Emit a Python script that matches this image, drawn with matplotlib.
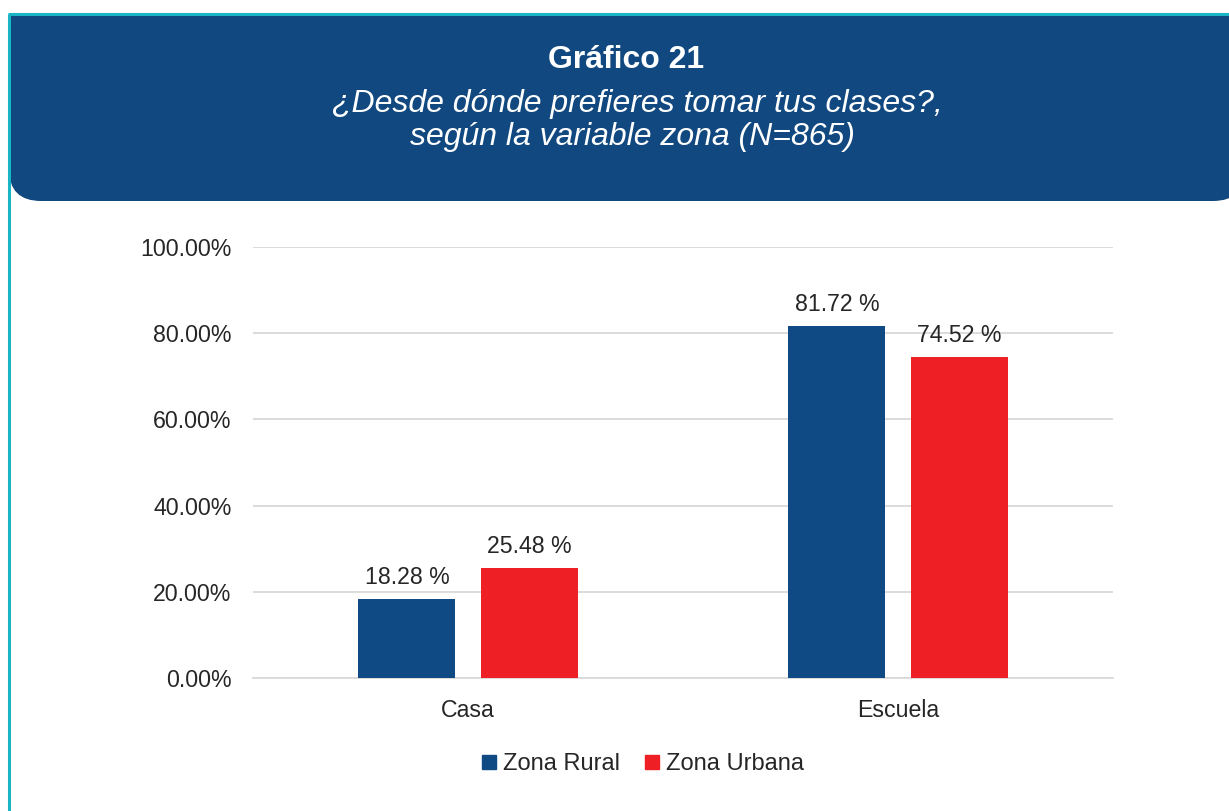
import matplotlib
matplotlib.use("Agg")
import matplotlib.pyplot as plt
import numpy as np
from matplotlib.patches import FancyBboxPatch, Rectangle
from matplotlib.lines import Line2D

categories = ["Casa", "Escuela"]
rural = [18.28, 81.72]
urbana = [25.48, 74.52]
series_names = ["Zona Rural", "Zona Urbana"]
yticks = [0, 20, 40, 60, 80, 100]
ytick_labels = ["0.00%", "20.00%", "40.00%", "60.00%", "80.00%", "100.00%"]

BLUE = "#0f4a84"
RED = "#ee1f25"
HEADER = "#10487f"
CYAN = "#19b5c4"
TXT = "#262626"

plt.rcParams['font.family'] = ['Liberation Sans', 'DejaVu Sans']

W, H = 1229, 811
fig = plt.figure(figsize=(W / 100, H / 100), dpi=100)

# header band with rounded bottom corners
bg = fig.add_axes([0, 0, 1, 1], zorder=0)
bg.set_xlim(0, W)
bg.set_ylim(H, 0)
bg.axis("off")
hdr = FancyBboxPatch((9, 60), W - 9 + 16, 141, boxstyle="round,pad=0,rounding_size=32",
                     facecolor=HEADER, edgecolor="none")
bg.add_patch(hdr)
bg.add_patch(Rectangle((9, 15), W, 100, facecolor=HEADER, edgecolor="none"))
bg.plot([8.5, 8.5], [14, H + 5], color=CYAN, lw=2.2, solid_capstyle="butt")
bg.plot([8, W], [14, 14], color=CYAN, lw=2.2, solid_capstyle="butt")

bg.text(626, 60, "Gráfico 21", color="white", fontsize=23, fontweight="bold",
        ha="center", va="center")
bg.text(637, 104, "¿Desde dónde prefieres tomar tus clases?,", color="white", fontsize=23,
        style="italic", ha="center", va="center")
bg.text(632, 137, "según la variable zona (N=865)", color="white", fontsize=23,
        style="italic", ha="center", va="center")

ax = fig.add_axes([253 / W, 1 - 678 / H, (1113 - 253) / W, (678 - 247) / H], zorder=1)
ax.patch.set_alpha(0)
x = np.arange(len(categories))
bw = 0.2256
off = 0.142
b1 = ax.bar(x - off, rural, bw, color=BLUE, label=series_names[0], zorder=3)
b2 = ax.bar(x + off, urbana, bw, color=RED, label=series_names[1], zorder=3)
for bars, vals in ((b1, rural), (b2, urbana)):
    for r, v in zip(bars, vals):
        ax.annotate(f"{v:.2f} %", (r.get_x() + r.get_width() / 2, v), xytext=(0, 7),
                    textcoords="offset points", ha="center", va="bottom",
                    fontsize=16.7, color=TXT)

ax.set_xlim(-0.5, 1.5)
ax.set_ylim(0, 100)
ax.set_yticks(yticks)
ax.set_yticklabels(ytick_labels, fontsize=16.7, color=TXT)
ax.set_xticks(x)
ax.set_xticklabels(categories, fontsize=16.7, color=TXT)
ax.grid(axis="y", color="#d9d9d9", lw=1.3, zorder=0)
for s in ["top", "right", "left"]:
    ax.spines[s].set_visible(False)
ax.spines["bottom"].set_color("#d9d9d9")
ax.spines["bottom"].set_linewidth(1.3)
ax.tick_params(axis="both", length=0)
ax.tick_params(axis="y", pad=15.5)
ax.tick_params(axis="x", pad=15)

handles = [Line2D([], [], marker="s", ls="none", markersize=9.5, color=BLUE),
           Line2D([], [], marker="s", ls="none", markersize=9.5, color=RED)]
fig.legend(handles, series_names, loc="center", bbox_to_anchor=(642 / W, 1 - 764 / H),
           ncol=2, frameon=False, fontsize=17, handlelength=0.7, handletextpad=0.25,
           columnspacing=1.0, labelcolor=TXT)

fig.savefig("out.png", dpi=100)
